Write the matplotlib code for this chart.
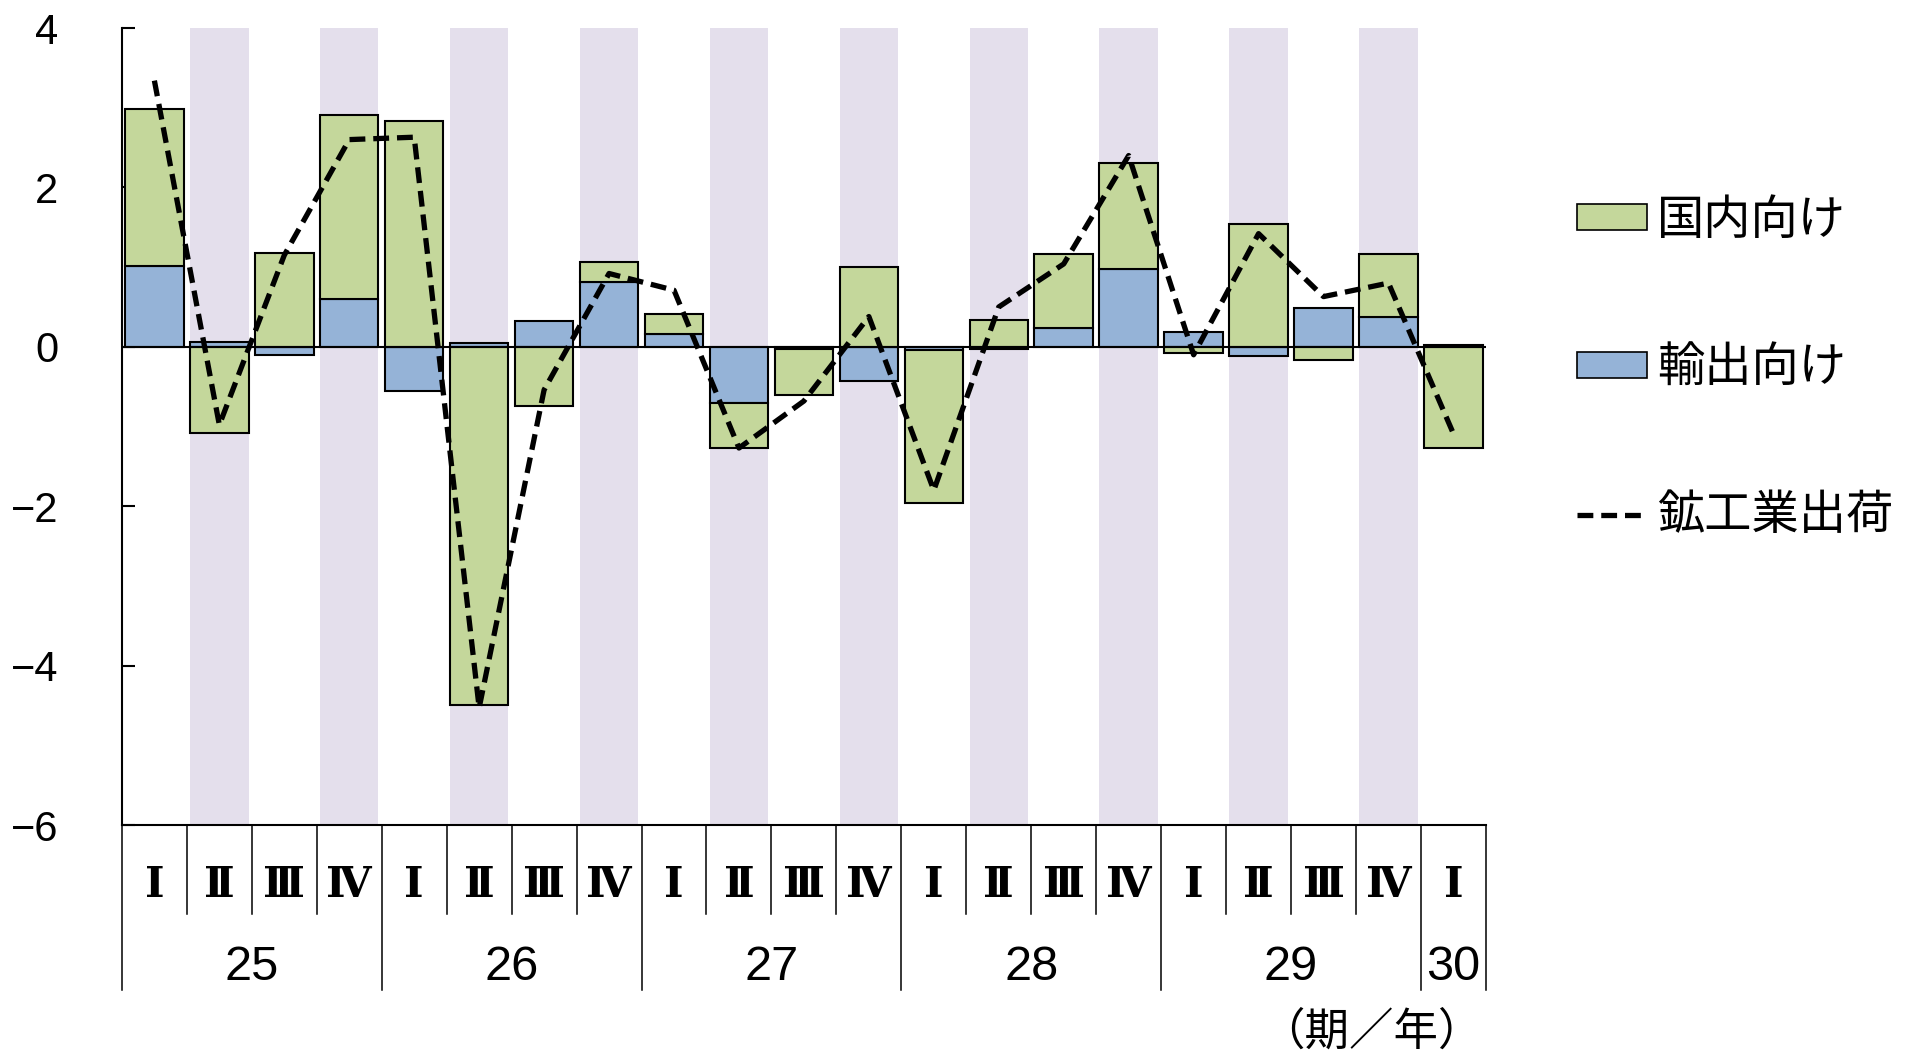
import matplotlib
matplotlib.use('Agg')
import matplotlib.pyplot as plt
from matplotlib.patches import Patch
from matplotlib.lines import Line2D
import numpy as np

plt.rcParams['font.family'] = ['Noto Sans CJK JP', 'DejaVu Sans']

# quarters (期) and fiscal years (年)
quarters = ['Ⅰ', 'Ⅱ', 'Ⅲ', 'Ⅳ'] * 5 + ['Ⅰ']
years = ['25', '26', '27', '28', '29', '30']
year_len = [4, 4, 4, 4, 4, 1]

# contributions (%pt)
export = [1.01, 0.06, -0.10, 0.60, -0.55, 0.05, 0.33, 0.81, 0.16, -0.70, -0.03,
          -0.43, -0.04, -0.03, 0.23, 0.98, 0.18, -0.12, 0.49, 0.38, 0.02]
domestic = [1.98, -1.08, 1.18, 2.31, 2.83, -4.49, -0.74, 0.25, 0.25, -0.57, -0.58,
            1.00, -1.92, 0.34, 0.93, 1.33, -0.08, 1.54, -0.16, 0.79, -1.27]
shipments = [3.34, -0.98, 1.15, 2.60, 2.63, -4.53, -0.54, 0.92, 0.71, -1.27, -0.68,
             0.38, -1.80, 0.50, 1.04, 2.40, -0.10, 1.42, 0.63, 0.80, -1.09]

green = '#C4D79B'
blue = '#95B3D7'
band = '#E4DFEC'
dash = (0, (3.0, 1.5))

fig = plt.figure(figsize=(19.05, 10.53), dpi=100)
ax = fig.add_axes([0.064, 0.2165, 0.716, 0.7569])

n = len(export)
x = np.arange(n)
exp = np.array(export)
dom = np.array(domestic)

# excel-like stacking: positives on positives, negatives on negatives
pos = np.zeros(n)
neg = np.zeros(n)
bot_exp = np.where(exp >= 0, pos, neg)
pos = pos + np.clip(exp, 0, None)
neg = neg + np.clip(exp, None, 0)
bot_dom = np.where(dom >= 0, pos, neg)

# shaded bands for quarters II and IV
ax.bar(x[1::2], 10, bottom=-6, width=0.9, color=band, zorder=0)

ax.bar(x, exp, bottom=bot_exp, width=0.9, color=blue, edgecolor='black', linewidth=1.5, zorder=2)
ax.bar(x, dom, bottom=bot_dom, width=0.9, color=green, edgecolor='black', linewidth=1.5, zorder=2)
ax.axhline(0, color='black', lw=1.5, zorder=3)
ax.plot(x, shipments, color='black', lw=3.8, linestyle=dash, zorder=4)

ax.set_xlim(-0.5, n - 0.5)
ax.set_ylim(-6, 4)
ax.set_yticks(range(-6, 5, 2))
ax.set_xticks([])
ax.tick_params(axis='y', direction='in', length=9, width=1.5, labelsize=30, pad=46,
               labelfontfamily='Liberation Sans')
for s in ['top', 'right']:
    ax.spines[s].set_visible(False)
for s in ['left', 'bottom']:
    ax.spines[s].set_linewidth(1.5)

# table-like category axis below the plot
tr = ax.get_xaxis_transform()
year_edges = list(np.cumsum([0] + year_len))
for k in range(n + 1):
    ybot = -0.207 if k in year_edges else -0.1117
    ax.plot([k - 0.5, k - 0.5], [0, ybot], transform=tr, clip_on=False, color='black', lw=1.1)
for i, q in enumerate(quarters):
    ax.text(i, -0.0753, q, transform=tr, ha='center', va='center', fontsize=30,
            family=['DejaVu Serif', 'Noto Sans CJK JP'], fontweight='bold')
start = 0
for y, l in zip(years, year_len):
    ax.text(start + (l - 1) / 2, -0.179, y, transform=tr, ha='center', va='center',
            fontsize=35, family=['Liberation Sans Narrow', 'Liberation Sans'])
    start += l
ax.text(18.73, -0.259, '（期／年）', transform=tr, ha='center', va='center', fontsize=32)

handles = [Patch(facecolor=green, edgecolor='black', linewidth=1.2),
           Patch(facecolor=blue, edgecolor='black', linewidth=1.2),
           Line2D([], [], color='black', lw=3.8, linestyle=dash)]
labels = ['国内向け', '輸出向け', '鉱工業出荷']
fig.legend(handles, labels, loc='center left', bbox_to_anchor=(0.828, 0.650), frameon=False,
           fontsize=34, handlelength=1.47, handleheight=0.47, handletextpad=0.21,
           labelspacing=2.1, borderpad=0, borderaxespad=0)

fig.savefig('out.png', dpi=100)
